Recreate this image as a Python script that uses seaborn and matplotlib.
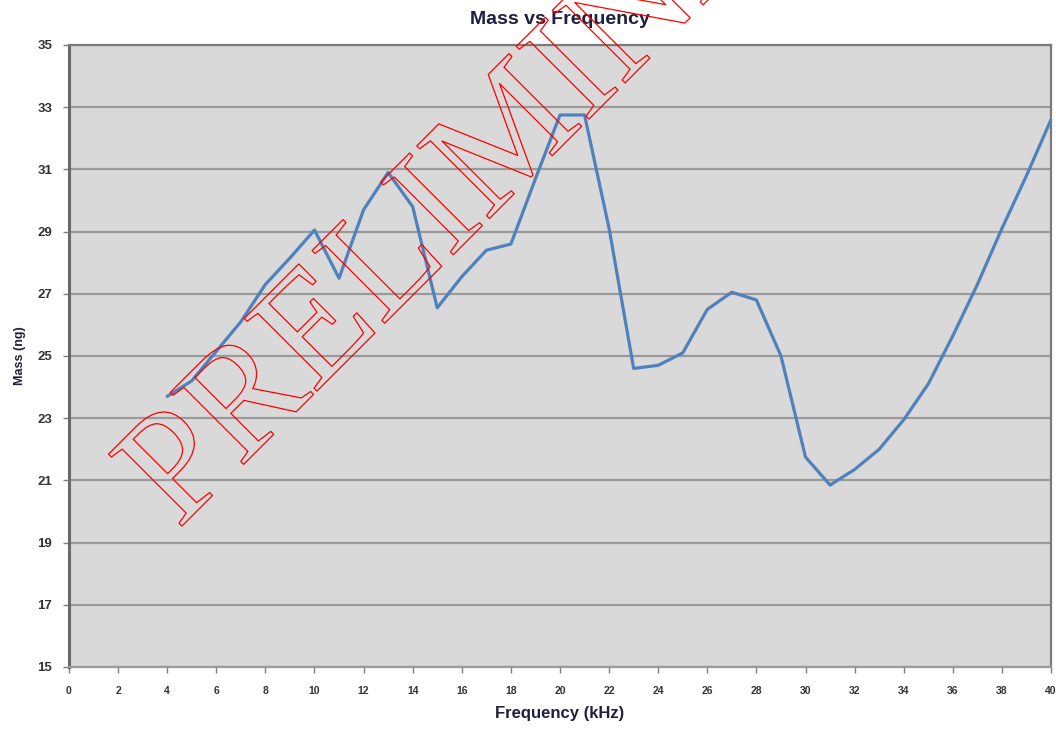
import numpy as np
import pandas as pd
import matplotlib
matplotlib.use("Agg")
import matplotlib.pyplot as plt
from matplotlib import patheffects
import seaborn as sns

# Measured mass for each drive frequency
freq_khz = [4, 5, 6, 7, 8, 9, 10, 11, 12, 13, 14, 15, 16, 17, 18, 19, 20, 21,
            22, 23, 24, 25, 26, 27, 28, 29, 30, 31, 32, 33, 34, 35, 36, 37,
            38, 39, 40]
mass_ng = [23.7, 24.2, 25.15, 26.1, 27.3, 28.15, 29.05, 27.5, 29.7, 30.9,
           29.8, 26.55, 27.55, 28.4, 28.6, 30.7, 32.75, 32.75, 29.1, 24.6,
           24.7, 25.1, 26.5, 27.05, 26.8, 25.0, 21.75, 20.85, 21.35, 22.0,
           22.95, 24.1, 25.65, 27.3, 29.1, 30.8, 32.6]
x_ticks = list(range(0, 41, 2))
y_ticks = list(range(15, 36, 2))

df = pd.DataFrame({"Frequency (kHz)": freq_khz, "Mass (ng)": mass_ng})

sns.set_theme(style="white")
plt.rcParams["font.family"] = ["Liberation Sans", "DejaVu Sans"]

fig = plt.figure(figsize=(10.56, 7.34), dpi=100)
ax = fig.add_axes([0.0653, 0.0913, 0.9300, 0.8474])
ax.set_facecolor("#d9d9d9")

sns.lineplot(data=df, x="Frequency (kHz)", y="Mass (ng)", ax=ax,
             color="#4f81bd", linewidth=2.3, zorder=3)

ax.set_xlim(0, 40)
ax.set_ylim(15, 35)
ax.set_xticks(x_ticks)
ax.set_yticks(y_ticks)
ax.set_xticklabels([str(t) for t in x_ticks], fontsize=7.5, fontweight="bold",
                   color="#333333")
ax.set_yticklabels([str(t) for t in y_ticks], fontsize=9.5, fontweight="bold",
                   color="#333333")
ax.tick_params(axis="x", length=4, width=1, color="#7f7f7f", pad=10,
               direction="out", bottom=True)
ax.tick_params(axis="y", length=4, width=1, color="#7f7f7f", pad=8,
               direction="out", left=True)

ax.grid(axis="y", color="#9a9a9a", linewidth=1.6, zorder=1)
ax.grid(axis="x", visible=False)
for side in ["left", "right", "bottom", "top"]:
    ax.spines[side].set_visible(True)
ax.spines["left"].set_color("#6a6a6a")
ax.spines["left"].set_linewidth(2.2)
ax.spines["right"].set_color("#7a7a7a")
ax.spines["right"].set_linewidth(1.6)
ax.spines["bottom"].set_color("#9a9a9a")
ax.spines["bottom"].set_linewidth(1.6)
ax.spines["top"].set_color("#7a7a7a")
ax.spines["top"].set_linewidth(1.6)

ax.set_xlabel("Frequency (kHz)", fontsize=12, fontweight="bold",
              color="#1f1f3f", labelpad=7)
ax.set_ylabel("Mass (ng)", fontsize=9, fontweight="bold",
              color="#1f1f3f", labelpad=8)
fig.text(0.530, 0.974, "Mass vs Frequency", ha="center", va="center",
         fontsize=14, fontweight="bold", color="#1f1f3f")

# Outlined draft stamp running diagonally across the plot
stamp = fig.text(178 / 1056, 1 - 530 / 734, "PRELIMINARY", rotation=45,
                 rotation_mode="anchor", ha="left", va="baseline",
                 fontsize=113, family="Liberation Serif", color="none",
                 zorder=10)
stamp.set_path_effects([patheffects.withStroke(linewidth=0.9,
                                                foreground="red")])

fig.savefig("out.png", dpi=100, facecolor="white")
